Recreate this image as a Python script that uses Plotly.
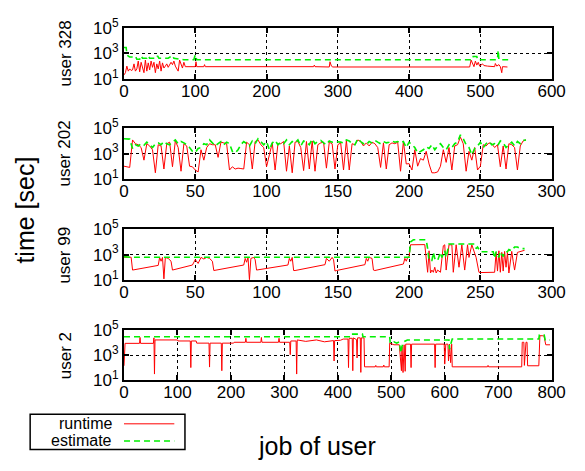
import plotly.graph_objects as go

# ---------------- data ----------------
# user 328
u328_run_x = [0, 2, 4, 6, 8, 10, 12, 14, 16, 18, 20, 22, 24, 26, 28, 30, 32, 34, 36, 38, 40, 42, 44, 46, 48, 50,
              52, 54, 56, 58, 60, 62, 64, 66, 68, 70, 72, 74, 76, 78, 80, 82, 84, 86,
              100, 101, 102, 112, 113, 114, 266, 267, 268, 288, 289, 291, 293, 485, 487, 489, 491, 493, 495,
              497, 499, 503, 505, 510, 520, 521, 523, 526, 528, 530, 531, 538]
u328_run_y = [20, 30, 100, 40, 60, 45, 50, 150, 40, 60, 250, 35, 200, 60, 30, 300, 40, 180, 50, 250, 80, 200, 30,
              150, 60, 250, 40, 180, 70, 100, 150, 80, 120, 200, 130, 250, 100, 60, 40, 300, 150, 70, 200, 90,
              90, 220, 90, 90, 130, 90, 90, 120, 90, 85, 220, 100, 85, 85, 300, 180, 90, 250, 120,
              200, 100, 150, 110, 100, 90, 160, 100, 130, 90, 30, 90, 85]
u328_est_x = [0, 3, 4, 6, 8, 14, 16, 18, 22, 24, 26, 32, 34, 36, 46, 47, 49, 60, 62, 68, 70, 84, 98, 100, 102,
              489, 490, 495, 496, 524, 525, 526, 539]
u328_est_y = [3000, 3000, 900, 600, 520, 520, 600, 350, 350, 650, 420, 420, 650, 420, 420, 650, 420, 420, 420,
              700, 420, 320, 320, 800, 320, 320, 570, 570, 320, 320, 1800, 320, 320]

# user 202 (every second job)
u202_x = list(range(0, 284, 2))
u202_run = [100, 90, 80, 12000, 6000, 5000, 3000, 300, 6000, 4000, 2000, 30, 5000, 4000, 60,
            6000, 8000, 90, 10000, 3000, 40, 6000, 4000, 100, 90, 50, 35, 2000, 300, 3000,
            6000, 5000, 5000, 500, 8000, 7000, 6000, 50, 90, 60, 70, 65, 60, 8000, 5000,
            60, 9000, 12000, 5000, 3000, 90, 800, 7000, 50, 6000, 6000, 9000, 40, 4000, 30,
            8000, 9000, 3000, 45, 9000, 60, 10000, 40, 5000, 7000, 8000, 70, 8000, 6000, 60,
            5000, 7000, 50, 11000, 50, 6000, 5000, 12000, 9000, 4000, 7000, 4000, 8000, 6000, 3000,
            80, 7000, 60, 5000, 7000, 6000, 8000, 40, 9000, 150, 160, 50, 2000, 100, 400,
            300, 1500, 150, 30, 30, 35, 100, 2000, 200, 3000, 50, 4000, 5000, 20000, 6000,
            40, 1500, 300, 3000, 50, 100, 5000, 4000, 7000, 6000, 3000, 5000, 90, 4000, 60,
            6000, 5000, 3000, 50, 4000, 10000, 12000]
u202_est = [15000, 15000, 14000, 2500, 5000, 4000, 6000, 4500, 8000, 5000, 3000, 6000, 7000, 5000, 9000,
            6000, 5000, 8000, 12000, 6000, 9000, 7000, 5000, 3000, 1500, 1200, 2500, 3000, 6000, 5000,
            12000, 7000, 4000, 6000, 9000, 5000, 8000, 6000, 1500, 1100, 2000, 5000, 9000, 6000, 4000,
            10000, 6000, 15000, 8000, 5000, 9000, 2000, 7000, 11000, 5000, 8000, 6000, 12000, 5000, 9000,
            7000, 12000, 4000, 10000, 8000, 5000, 14000, 6000, 9000, 11000, 7000, 5000, 10000, 8000, 9000,
            9000, 8000, 7000, 12000, 10000, 6000, 5000, 15000, 9000, 6000, 5000, 9000, 7000, 11000, 8000,
            6000, 9000, 7000, 8000, 10000, 8000, 9000, 7000, 9000, 3000, 8000, 5000, 3000, 1100, 1500,
            2000, 3500, 2500, 5000, 2000, 4000, 6000, 3000, 2000, 5000, 3000, 6000, 8000, 30000, 15000,
            5000, 3000, 800, 2500, 4000, 8000, 3000, 6000, 9000, 5000, 6000, 4000, 10000, 7000, 3000,
            5000, 8000, 4000, 9000, 6000, 11000, 12000]

# user 99
u99_run_x = [0, 5, 6, 24, 25, 26, 27, 28, 29, 31, 33, 34, 48, 50, 52, 54, 56, 58, 60, 62, 63, 84, 85, 86, 87,
             88, 89, 91, 92, 93, 115, 116, 117, 118, 119, 120, 141, 142, 144, 146, 147, 148, 149, 169, 170,
             171, 172, 174, 175, 176, 196, 197, 198, 199, 200, 201, 211, 212, 213, 214, 215, 216, 217, 218,
             219, 220, 222, 224, 225, 226, 228, 230, 231, 233, 235, 237, 239, 241, 242, 244, 246, 247, 249,
             250, 260, 261, 262, 263, 264, 265, 266, 267, 268, 269, 270, 272, 273, 274, 276, 278, 280, 281]
u99_run_y = [620, 620, 60, 140, 600, 300, 600, 12, 600, 500, 300, 60, 150, 400, 200, 600, 450, 600, 500, 300,
             55, 150, 500, 250, 600, 10, 500, 600, 400, 60, 150, 500, 300, 600, 55, 55, 160, 500, 300, 600,
             400, 50, 55, 160, 500, 300, 600, 500, 60, 55, 180, 500, 300, 600, 700, 6000, 6200, 600, 40,
             2000, 35, 60, 40, 100, 35, 60, 40, 5000, 6000, 60, 6000, 6000, 40, 6000, 100, 6000, 60, 6000,
             600, 6000, 1500, 600, 40, 38, 40, 1500, 50, 2000, 40, 1500, 50, 1800, 100, 1500, 35, 1800, 300,
             60, 1500, 1800, 2000, 2200]
u99_est_x = [0, 3, 4, 200, 201, 203, 212, 213, 214, 216, 217, 218, 219, 220, 222, 223, 225, 226, 227, 228,
             246, 247, 248, 250, 259, 260, 261, 263, 264, 266, 267, 269, 270, 272, 274, 276, 278, 281]
u99_est_y = [700, 650, 620, 620, 10000, 15000, 15000, 3000, 340, 340, 1500, 500, 340, 340, 1500, 600, 2000,
             600, 3000, 7000, 7000, 3000, 4000, 1700, 1700, 500, 1700, 600, 1700, 700, 1700, 1700, 2500,
             2000, 4000, 4000, 3000, 3000]

# user 2
u2_run_x = [0, 2, 29, 30, 31, 55, 56, 57, 58, 100, 101, 124, 125, 126, 135, 136, 159, 160, 161, 182, 183, 184,
            205, 206, 227, 228, 229, 256, 257, 258, 289, 290, 291, 310, 311, 312, 322, 323, 324, 340, 360,
            375, 392, 393, 394, 405, 410, 419, 420, 421, 427, 428, 429, 435, 436, 437, 442, 443, 444, 449,
            450, 470, 471, 472, 485, 486, 487, 496, 497, 505, 515, 519, 520, 522, 524, 526, 527, 536, 537,
            538, 581, 582, 583, 599, 600, 602, 606, 607, 609, 611, 613, 614, 680, 681, 682, 744, 745, 748,
            749, 752, 754, 755, 776, 778, 783, 784, 786, 789, 797]
u2_run_y = [140, 9000, 9000, 27000, 9000, 9000, 25000, 30, 17000, 17000, 14000, 14000, 100, 14000, 14000,
            9400, 9400, 110, 9400, 9400, 56, 9400, 9400, 11000, 11000, 23000, 11000, 11000, 27000, 11000,
            11000, 23000, 11000, 11000, 1100, 14000, 14000, 30, 17000, 13000, 17000, 12000, 15000, 340,
            15000, 16000, 20000, 20000, 100, 23000, 23000, 56, 25000, 18000, 600, 25000, 25000, 41, 25000,
            25000, 115, 115, 150, 115, 115, 160, 115, 115, 9400, 6900, 6900, 56, 5000, 40, 6900, 50, 7800,
            7800, 100, 7800, 7800, 100, 7800, 7800, 190, 7800, 7800, 340, 7800, 250, 7800, 115, 115, 150,
            115, 115, 11000, 11000, 150, 11000, 11000, 140, 140, 37000, 37000, 40000, 30000, 6900, 6900]
u2_est_x = [0, 423, 424, 446, 447, 497, 498, 505, 510, 515, 518, 520, 523, 530, 608, 609, 612, 614, 776, 777,
            786, 788, 797]
u2_est_y = [31000, 31000, 50000, 50000, 31000, 31000, 9300, 12000, 9300, 12000, 1500, 5000, 12000, 17000,
            17000, 3000, 10000, 20000, 20000, 43000, 43000, 17000, 17000]

panels = [
    ("user 328", u328_run_x, u328_run_y, u328_est_x, u328_est_y, 600, 100),
    ("user 202", u202_x, u202_run, u202_x, u202_est, 300, 50),
    ("user 99", u99_run_x, u99_run_y, u99_est_x, u99_est_y, 300, 50),
    ("user 2", u2_run_x, u2_run_y, u2_est_x, u2_est_y, 800, 100),
]
ytickvals = [10, 1000, 100000]
yticktext = ["10<sup>1</sup>", "10<sup>3</sup>", "10<sup>5</sup>"]

# ---------------- layout geometry ----------------
W, H = 585, 471
FONT = "Liberation Sans, Arial, sans-serif"
RED = "#ff0000"
GREEN = "#00f000"
px = lambda v: v / W
py = lambda v: 1 - v / H
panel_px = [(17, 70), (122, 175), (228, 281), (334, 386)]
xdom = [px(123), px(565)]

fig = go.Figure()
layout = dict(
    width=W, height=H, margin=dict(l=0, r=0, t=0, b=0),
    paper_bgcolor="white", plot_bgcolor="white",
    font=dict(family=FONT, size=17, color="black"),
    showlegend=False,
)
annotations = []
for i, (name, rx, ry, ex, ey, xmax, dt) in enumerate(panels):
    k = "" if i == 0 else str(i + 1)
    fig.add_trace(go.Scatter(x=rx, y=ry, mode="lines", name="runtime",
                             line=dict(color=RED, width=1), xaxis="x" + k, yaxis="y" + k))
    fig.add_trace(go.Scatter(x=ex, y=ey, mode="lines", name="estimate",
                             line=dict(color=GREEN, width=1.6, dash="6px,4px"),
                             xaxis="x" + k, yaxis="y" + k))
    top, bot = panel_px[i]
    common = dict(showline=True, linecolor="black", linewidth=2, mirror="ticks",
                  ticks="inside", ticklen=5, tickwidth=1.5, tickcolor="black",
                  showgrid=True, gridcolor="black", gridwidth=1, griddash="dot",
                  zeroline=False, tickfont=dict(family=FONT, size=17, color="black"))
    layout["xaxis" + k] = dict(domain=xdom, anchor="y" + k, range=[0, xmax],
                               tickmode="linear", tick0=0, dtick=dt, ticklabelstandoff=-4, **common)
    layout["yaxis" + k] = dict(domain=[py(bot), py(top)], anchor="x" + k, type="log",
                               range=[1, 5], tickvals=ytickvals, ticktext=yticktext, **common)
    annotations.append(dict(text=name, x=px(62), y=py((top + bot) / 2), xref="paper", yref="paper",
                            textangle=-90, showarrow=False, font=dict(size=17),
                            xanchor="center", yanchor="middle"))

annotations.append(dict(text="time [sec]", x=px(21), y=py(208), xref="paper", yref="paper",
                        textangle=-90, showarrow=False, font=dict(size=25),
                        xanchor="center", yanchor="middle"))
annotations.append(dict(text="job of user", x=px(322), y=py(455), xref="paper", yref="paper",
                        showarrow=False, font=dict(size=25), xanchor="center", yanchor="middle"))
# manual legend (text left, sample right, like the reference)
annotations.append(dict(text="runtime", x=px(113), y=py(432), xref="paper", yref="paper",
                        showarrow=False, font=dict(size=16), xanchor="right", yanchor="middle"))
annotations.append(dict(text="estimate", x=px(113), y=py(450), xref="paper", yref="paper",
                        showarrow=False, font=dict(size=16), xanchor="right", yanchor="middle"))
shapes = [
    dict(type="rect", xref="paper", yref="paper", x0=px(26), x1=px(186), y0=py(459), y1=py(422),
         line=dict(color="black", width=1.5)),
    dict(type="line", xref="paper", yref="paper", x0=px(123), x1=px(175), y0=py(432), y1=py(432),
         line=dict(color=RED, width=1)),
    dict(type="line", xref="paper", yref="paper", x0=px(123), x1=px(175), y0=py(450), y1=py(450),
         line=dict(color=GREEN, width=1.6, dash="6px,4px")),
]
layout["annotations"] = annotations
layout["shapes"] = shapes
fig.update_layout(**layout)
fig.write_html("out.html")
